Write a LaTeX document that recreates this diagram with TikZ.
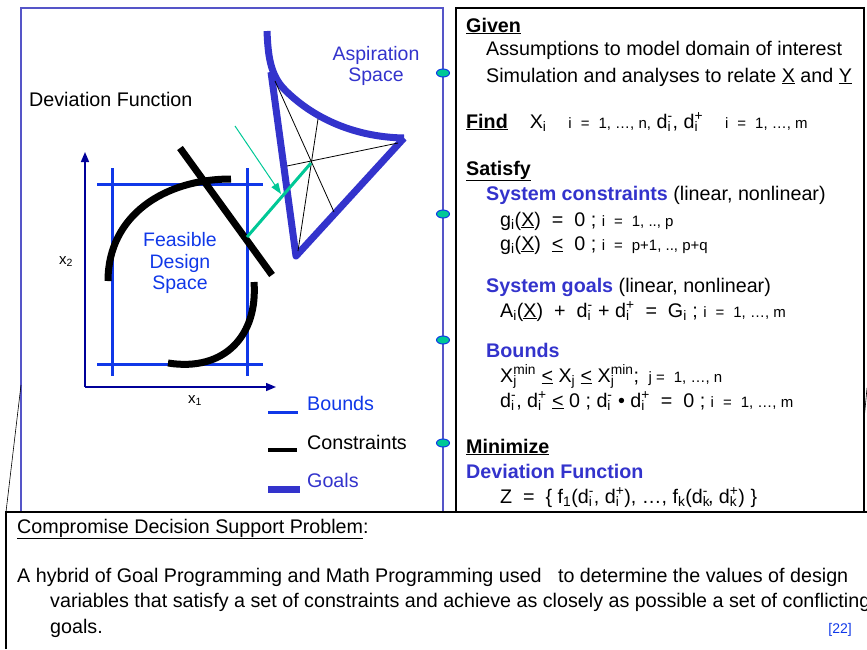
\documentclass[tikz,border=0pt]{standalone}
\usepackage{fontspec}
\setmainfont{Liberation Sans}
\usetikzlibrary{calc, positioning, arrows.meta, shapes.geometric}
\definecolor{frameBlue}{HTML}{5555C8}
\definecolor{boundBlue}{HTML}{1038E8}
\definecolor{goalBlue}{HTML}{3333CC}
\definecolor{axisNavy}{HTML}{000099}
\definecolor{tealGreen}{HTML}{00C896}
\newcommand{\lo}[1]{\textsubscript{#1}}
\newcommand{\hi}[1]{\textsuperscript{#1}}
\newcommand{\both}[3]{#1\rlap{\textsubscript{#2}}\textsuperscript{#3}}
\newcommand{\smf}{\fontsize{15}{17}\selectfont}
\newcommand{\ule}{\underline{<}}
\newcommand{\gap}{\hspace{9pt}}
\tikzset{
  txt/.style   = {anchor=base west, inner sep=0pt, font=\fontsize{19.7}{23}\selectfont},
  ctr/.style   = {align=center, inner sep=0pt, font=\fontsize{19.5}{21.5}\selectfont},
  hd/.style    = {txt, text=goalBlue, font=\fontsize{19.7}{23}\selectfont\bfseries},
  bnd/.style   = {draw=boundBlue, line width=3pt},
  cons/.style  = {draw=black, line width=7pt},
  goal/.style  = {draw=goalBlue, line width=7pt, line join=round},
  ray/.style   = {draw=black, line width=0.8pt},
  axis/.style  = {-{Triangle[length=10pt, width=8pt]}, draw=axisNavy, line width=1.5pt},
  pin/.style   = {ellipse, draw=boundBlue, fill=tealGreen, line width=1pt,
                  minimum width=13pt, minimum height=8pt, inner sep=0pt}
}
\begin{document}
\begin{tikzpicture}[x=1pt, y=-1pt]
  \useasboundingbox (0,0) rectangle (867,649);
  \draw[frameBlue, line width=1.3pt] (21,8) rectangle (443,512);
  \draw[black, line width=1.5pt] (456,8) rectangle (864,512);
  \draw[black, line width=1.2pt] (6,649) |- (867,512);
  \draw[black, line width=0.6pt] (6,512) -- (21,385);
  \draw[black, line width=0.6pt] (864,420) -- (867,388);
  \foreach \y [count=\k] in {73, 214, 340, 443}
    \node[pin] (pin\k) at (443,\y) {};

  \node[txt] (devlbl) at (29,106) {Deviation Function};
  \node[ctr, text=goalBlue] (asp) at (376,66) {Aspiration\\Space};
  \node[ctr, text=boundBlue] (feas) at (180,263) {Feasible\\Design\\Space};

  \coordinate (o) at (85,387);
  \coordinate (ytop) at (85,152);
  \coordinate (xend) at (276,387);
  \draw[axis] (o) -- (ytop);
  \draw[axis] (o) -- (xend);
  \node[txt, font=\fontsize{15}{17}\selectfont] (x2) at (59,264) {x\lo{2}};
  \node[txt, font=\fontsize{15}{17}\selectfont] (x1) at (188,403) {x\lo{1}};

  \draw[bnd] (112,168) -- (112,376);
  \draw[bnd] (247,168) -- (247,376);
  \draw[bnd] (97,184) -- (263,184);
  \draw[bnd] (97,364) -- (263,364);

  \draw[cons] (108,281) .. controls (108,215) and (165,179) .. (231,179);
  \draw[cons] (254,282) .. controls (258,335) and (225,372) .. (168,363);
  \coordinate (c1) at (180,148);
  \coordinate (c2) at (272,275);
  \draw[cons] (c1) -- (c2);

  \coordinate (gtop) at (267,31);
  \coordinate (ta) at (271,72);
  \coordinate (tb) at (296,256);
  \coordinate (tc) at (404,138);
  \draw[goal] (gtop) .. controls (268,55) and (270,75) .. (285,90)
    .. controls (310,115) and (350,137) .. (tc);
  \draw[goal] (ta) -- (tb) -- (tc);
  \coordinate (hub) at (311,163);
  \draw[ray] (275,81) -- (334,212);
  \draw[ray] (318,119) -- (298,251);
  \draw[ray] (287,166) -- (398,143);
  \coordinate (near) at (247,237);
  \draw[tealGreen, line width=3pt] (hub) -- (near);
  \coordinate (hint) at (235,126);
  \coordinate (hintend) at (281,194);
  \draw[tealGreen, line width=1pt, -{Triangle[length=11pt, width=8pt]}] (hint) -- (hintend);

  \draw[bnd] (268,412) -- (298,412);
  \draw[draw=black, line width=4.5pt] (268,450) -- (297,450);
  \draw[goal] (268,489) -- (300,489);
  \node[txt, text=boundBlue] (lgb) at (307,410) {Bounds};
  \node[txt] (lgc) at (307,449) {Constraints};
  \node[txt, text=goalBlue] (lgg) at (307,487) {Goals};

  \node[txt] (given) at (466,32) {\textbf{\underline{Given}}};
  \node[txt] (assum) at (486,55) {Assumptions to model domain of interest};
  \node[txt] (simul) at (486,82) {Simulation and analyses to relate \underline{X} and \underline{Y}};
  \node[txt] (find) at (466,128) {\textbf{\underline{Find}}\hspace{22pt}X\lo{i}\hspace{22pt}{\smf i\gap=\gap1, …, n,} \both{d}{i}{-}, \both{d}{i}{+}\hspace{22pt}{\smf i\gap=\gap1, …, m}};
  \node[txt] (satis) at (466,175) {\textbf{\underline{Satisfy}}};
  \node[txt] (scons) at (486,200) {\textcolor{goalBlue}{\textbf{System constraints}} (linear, nonlinear)};
  \node[txt] (geq) at (500,226) {g\lo{i}(\underline{X})\ \ =\ \ 0 ; {\smf i\gap=\gap1, .., p}};
  \node[txt] (gle) at (500,250) {g\lo{i}(\underline{X})\ \ \ule\ \ 0 ; {\smf i\gap=\gap p+1, .., p+q}};
  \node[txt] (sgoal) at (486,292) {\textcolor{goalBlue}{\textbf{System goals}} (linear, nonlinear)};
  \node[txt] (aeq) at (500,317) {A\lo{i}(\underline{X})\ \ +\ \ \both{d}{i}{-} + \both{d}{i}{+}\ \ =\ \ G\lo{i} ; {\smf i\gap=\gap1, …, m}};
  \node[hd] (bnds) at (486,357) {Bounds};
  \node[txt] (xb) at (500,382) {\both{X}{j}{min} \ule\ X\lo{j} \ule\ \both{X}{j}{min}; {\smf\ j =\gap1, …, n}};
  \node[txt] (db) at (500,407) {\both{d}{i}{-}, \both{d}{i}{+} \ule\ 0 ; \both{d}{i}{-} • \both{d}{i}{+}\ \ =\ \ 0 ; {\smf i\gap=\gap1, …, m}};
  \node[txt] (mini) at (466,453) {\textbf{\underline{Minimize}}};
  \node[hd] (devf) at (466,478) {Deviation Function};
  \node[txt] (zfun) at (500,503) {Z\ \ =\ \ \{ f\lo{1}(\both{d}{i}{-}, \both{d}{i}{+}), …, f\lo{k}(\both{d}{k}{-}, \both{d}{k}{+}) \}};

  \node[txt] (cdsp) at (17,533) {\underline{Compromise Decision Support Problem}:};
  \node[txt] (hyb1) at (17,582) {A hybrid of Goal Programming and Math Programming used\ \ \ to determine the values of design};
  \node[txt] (hyb2) at (50,607) {variables that satisfy a set of constraints and achieve as closely as possible a set of conflicting};
  \node[txt] (hyb3) at (50,633) {goals.};
  \node[txt, anchor=base east, text=boundBlue, font=\fontsize{14}{16}\selectfont] (ref) at (852,633) {[22]};
\end{tikzpicture}
\end{document}
